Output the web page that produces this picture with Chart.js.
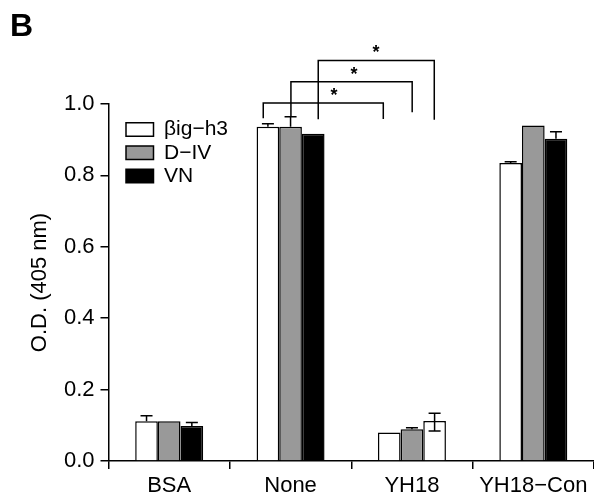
<!DOCTYPE html>
<html><head><meta charset="utf-8">
<script src="https://cdn.jsdelivr.net/npm/chart.js@4/dist/chart.umd.min.js"></script>
<style>html,body{margin:0;padding:0;background:#fff}</style>
</head><body>
<canvas id="c" width="594" height="495"></canvas>
<script>
// ---- data ----
const categories = ['BSA', 'None', 'YH18', 'YH18\u2212Con'];
const seriesNames = ['\u03B2ig\u2212h3', 'D\u2212IV', 'VN'];
const betaIgH3 = [0.111, 0.936, 0.080, 0.835];
const dIV      = [0.111, 0.936, 0.089, 0.940];
const vn       = [0.098, 0.917, 0.112, 0.903];
const betaErrUp = [0.016, 0.009, 0.000, 0.003];
const dIVErrUp  = [0.000, 0.028, 0.004, 0.000];
const vnErrUp   = [0.010, 0.000, 0.022, 0.019];
const vnErrDown = [0.000, 0.000, 0.028, 0.000];
const yTicks = [0, 0.2, 0.4, 0.6, 0.8, 1.0];
// significance brackets (x in category units, y in O.D. units)
const bracketFrom  = [0.775, 1.003, 1.228];
const bracketTo    = [1.764, 2.002, 2.184];
const bracketY     = [1.003, 1.062, 1.122];
const bracketLeftEnd  = [0.960, 0.965, 0.957];
const bracketRightEnd = [0.958, 0.977, 0.956];
const starX = [1.357, 1.522, 1.704];
const starLabel = '*';
const panelLabel = 'B';

// ---- styles ----
const GRAY = '#999999';
const seriesFills = ['#ffffff', GRAY, '#000000'];
const vnBarFills = ['#000000', '#000000', '#ffffff', '#000000'];
const FONT = "'Liberation Sans', Arial, Helvetica, sans-serif";

const annot = {
  id: 'annot',
  afterLayout(chart) {
    const lg = chart.legend, ca = chart.chartArea;
    lg.left = ca.left + 15.2;
    lg.top = ca.top + 12.7;
    lg.right = lg.left + lg.width;
    lg.bottom = lg.top + lg.height;
  },
  afterDatasetsDraw(chart) {
    const ctx = chart.ctx, xs = chart.scales.x, ys = chart.scales.y;
    ctx.save();
    ctx.strokeStyle = '#000';
    ctx.lineWidth = 1.5;
    ctx.lineCap = 'butt';
    const ups = [betaErrUp, dIVErrUp, vnErrUp];
    const downs = [null, null, vnErrDown];
    chart.data.datasets.forEach((ds, di) => {
      const meta = chart.getDatasetMeta(di);
      meta.data.forEach((bar, i) => {
        const v = ds.data[i];
        const up = ups[di][i];
        const dn = downs[di] ? downs[di][i] : 0;
        if (!up && !dn) return;
        const cx = bar.x;
        const top = ys.getPixelForValue(v + up);
        const bot = ys.getPixelForValue(v - dn);
        ctx.beginPath();
        ctx.moveTo(cx, bot); ctx.lineTo(cx, top);
        if (up) { ctx.moveTo(cx - 6, top); ctx.lineTo(cx + 6, top); }
        if (dn) { ctx.moveTo(cx - 6, bot); ctx.lineTo(cx + 6, bot); }
        ctx.stroke();
      });
    });
    const p0 = xs.getPixelForValue(0), p1 = xs.getPixelForValue(1);
    const cat = u => p0 + u * (p1 - p0);
    ctx.font = 'bold 18px ' + FONT;
    ctx.fillStyle = '#000';
    ctx.textAlign = 'center';
    ctx.textBaseline = 'alphabetic';
    for (let k = 0; k < bracketY.length; k++) {
      const xl = cat(bracketFrom[k]), xr = cat(bracketTo[k]);
      const yy = ys.getPixelForValue(bracketY[k]);
      ctx.beginPath();
      ctx.moveTo(xl, ys.getPixelForValue(bracketLeftEnd[k]));
      ctx.lineTo(xl, yy);
      ctx.lineTo(xr, yy);
      ctx.lineTo(xr, ys.getPixelForValue(bracketRightEnd[k]));
      ctx.stroke();
      ctx.fillText(starLabel, cat(starX[k]), yy - 2);
    }
    ctx.textAlign = 'left';
    ctx.font = 'bold 32px ' + FONT;
    ctx.fillText(panelLabel, 10, 36);
    ctx.restore();
  }
};

new Chart(document.getElementById('c'), {
  type: 'bar',
  data: {
    labels: categories,
    datasets: [
      { label: seriesNames[0], data: betaIgH3, backgroundColor: seriesFills[0] },
      { label: seriesNames[1], data: dIV, backgroundColor: seriesFills[1] },
      { label: seriesNames[2], data: vn, backgroundColor: vnBarFills }
    ].map(d => Object.assign(d, { borderColor: '#000', borderWidth: 1.5, borderSkipped: 'bottom', categoryPercentage: 0.56, barPercentage: 1.0 }))
  },
  options: {
    responsive: false,
    animation: false,
    devicePixelRatio: 1,
    layout: { padding: { top: 104, left: 0, right: 0, bottom: 0 } },
    plugins: {
      tooltip: { enabled: false },
      legend: {
        position: 'chartArea',
        align: 'start',
        labels: {
          boxWidth: 27.5,
          boxHeight: 13.5,
          padding: 2.3,
          color: '#000',
          font: { family: FONT, size: 21 },
          generateLabels: () => seriesNames.map((n, i) => ({
            text: n, fillStyle: seriesFills[i], strokeStyle: '#000', lineWidth: 1.5,
            datasetIndex: i, hidden: false, fontColor: '#000'
          }))
        }
      }
    },
    scales: {
      x: {
        afterFit: s => { s.height = 34; },
        grid: { drawOnChartArea: false, drawTicks: true, tickLength: 8, color: '#000', lineWidth: 1.5, offset: true },
        border: { display: true, color: '#000', width: 1.5 },
        ticks: { color: '#000', padding: 4, font: { family: FONT, size: 22 }, maxRotation: 0, autoSkip: false }
      },
      y: {
        min: 0, max: 1.0,
        afterFit: s => { s.width = 108.5; },
        afterBuildTicks: s => { s.ticks = yTicks.map(v => ({ value: v })); },
        grid: { drawOnChartArea: false, drawTicks: true, tickLength: 8, color: '#000', lineWidth: 1.5 },
        border: { display: true, color: '#000', width: 1.5 },
        ticks: { color: '#000', padding: 6, font: { family: FONT, size: 22 }, callback: v => Number(v).toFixed(1) },
        title: { display: true, text: 'O.D. (405 nm)', color: '#000', font: { family: FONT, size: 22 }, padding: { top: 27, bottom: 0 } }
      }
    }
  },
  plugins: [annot]
});
</script>
</body></html>
